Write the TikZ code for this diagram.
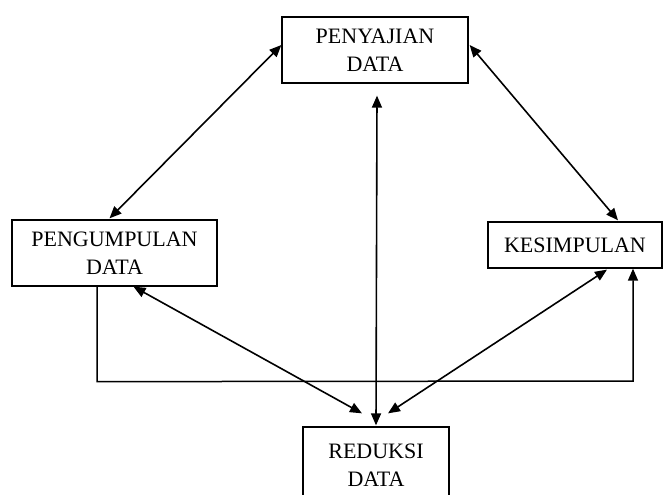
\documentclass[tikz,border=0pt]{standalone}
\usepackage{fontspec}
\setmainfont{Liberation Serif}
\usetikzlibrary{arrows.meta,calc}
\begin{document}
\begin{tikzpicture}[x=1pt,y=-1pt,
  box/.style={draw,line width=1.3pt,align=center,font=\fontsize{22}{28}\selectfont,inner sep=0pt},
  conn/.style={line width=1.6pt,{Triangle[length=12pt,width=10pt]}-{Triangle[length=12pt,width=10pt]}},
  oneway/.style={line width=1.5pt,-{Triangle[length=12pt,width=10pt]}}]
\useasboundingbox (0,0) rectangle (665,495);
\clip (0,0) rectangle (665,495);
\fill[white] (0,0) rectangle (665,495);
\node[box,minimum width=186pt,minimum height=66pt] (top) at (375,50) {\raisebox{-3pt}{\parbox{180pt}{\centering PENYAJIAN\\DATA}}};
\node[box,minimum width=205pt,minimum height=66pt] (left) at (114.5,253) {PENGUMPULAN\\DATA};
\node[box,minimum width=174pt,minimum height=46pt] (right) at (575,245) {KESIMPULAN};
\node[box,minimum width=146pt,minimum height=76pt] (bot) at (376,465) {REDUKSI\\DATA};
\draw[conn] ($(top.west)+(0,-5)$) -- ($(left.north)+(-5,-1)$);
\draw[conn] ($(top.east)+(1,-5)$) -- ($(right.north)+(43,-1)$);
\draw[conn] ($(top.south)+(2,12)$) -- ($(bot.north)+(0,-1)$);
\draw[conn] ($(left.south)+(19,0)$) -- ($(bot.north)+(-14,-13)$);
\draw[conn] ($(right.south)+(32,1)$) -- ($(bot.north)+(12,-13)$);
\coordinate (lc) at ($(left.south)+(-17.5,95)$);
\coordinate (rc) at (633,381);
\draw[oneway] ($(left.south)+(-17.5,0)$) -- (lc) -- (rc) -- (rc |- right.south);
\end{tikzpicture}
\end{document}
